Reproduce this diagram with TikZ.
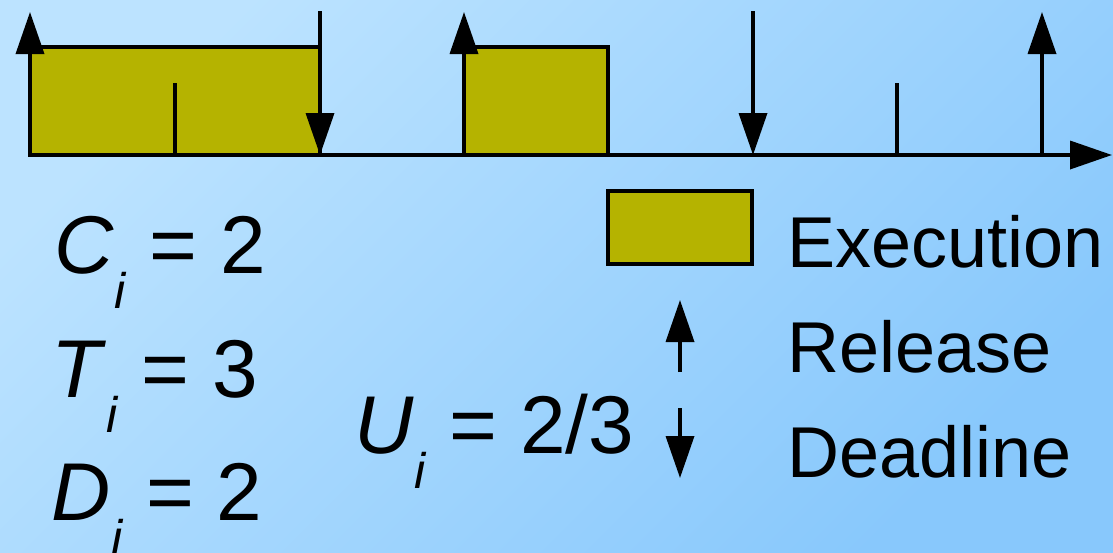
\documentclass[tikz,border=0pt]{standalone}
\usepackage{fontspec}
\setmainfont{Liberation Sans}
\usetikzlibrary{arrows.meta}

\definecolor{bglight}{RGB}{188,227,255}
\definecolor{bgdark}{RGB}{136,200,252}
\definecolor{execfill}{RGB}{181,179,0}

\begin{document}
\begin{tikzpicture}[x=1pt,y=-1pt,line width=3.6pt,
  >={Triangle[width=28pt,length=42pt]}]

% ------------------------------------------------------------------
% Background and page frame (1113 x 552, y grows downwards)
% ------------------------------------------------------------------
\shade[shading=axis, top color=bglight, bottom color=bgdark, shading angle=45]
  (0,0) rectangle (1113,552);
\useasboundingbox (0,0) rectangle (1113,552);

% Job executions: \jobbox{start}{end}
\newcommand{\jobbox}[2]{%
  \filldraw[fill=execfill] (#1,47) rectangle (#2,155);
}
% Release arrow (up) and deadline arrow (down) at a time point
\newcommand{\relarrow}[1]{\draw[->] (#1,155) -- (#1,12);}
\newcommand{\dlarrow}[1]{\draw[->] (#1,11) -- (#1,155);}
% Plain time tick
\newcommand{\midtick}[1]{\draw (#1,83) -- (#1,155);}

% Task parameters: \quantity{name}{x}{baseline}{letter}{value}
\newcommand{\quantity}[5]{%
  \node[anchor=base west, inner sep=0pt, font=\fontsize{82}{90}\selectfont]
    (#1) at (#2,#3)
    {\textit{#4}\raisebox{-35pt}{\fontsize{50}{50}\selectfont\textit{i}}\ = #5};
}

% Timeline
\jobbox{30}{320}
\jobbox{464}{608}
\relarrow{30}
\relarrow{464}
\relarrow{1042}
\dlarrow{320}
\dlarrow{753}
\midtick{175}
\midtick{897}
\draw[->] (30,155) -- (1112,155);

% Parameters
\quantity{cval}{53}{273}{C}{2}
\quantity{tval}{50}{397}{T}{3}
\quantity{dval}{50}{520}{D}{2}
\quantity{uval}{353}{453}{U}{2/3}

% Legend
\filldraw[fill=execfill] (608,191) rectangle (752,264);
\draw[->] (680,372) -- (680,300);
\draw[->] (680,408) -- (680,478);
\begin{scope}[every node/.style={anchor=base west, inner sep=0pt,
    font=\fontsize{72}{86}\selectfont}]
  \node (exlabel) at (786,267) {Execution};
  \node (rellabel) at (786,372) {Release};
  \node (dllabel) at (786,477) {Deadline};
\end{scope}

\end{tikzpicture}
\end{document}
